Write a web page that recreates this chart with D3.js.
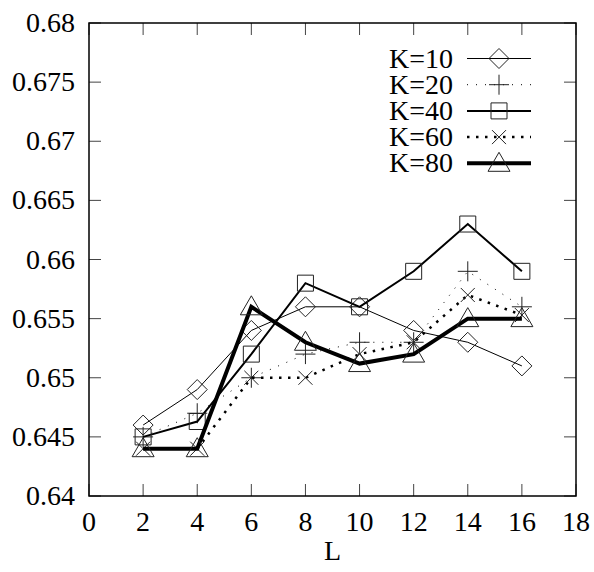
<!DOCTYPE html>
<html>
<head>
<meta charset="utf-8">
<script src="https://cdn.jsdelivr.net/npm/d3@7"></script>
</head>
<body style="margin:0">
<div id="chart"></div>
<script>
// Data
const L = [2, 4, 6, 8, 10, 12, 14, 16];
const k10 = [0.646, 0.649, 0.654, 0.656, 0.656, 0.654, 0.653, 0.651];
const k20 = [0.645, 0.647, 0.650, 0.652, 0.653, 0.653, 0.659, 0.656];
const k40 = [0.645, 0.6463, 0.652, 0.658, 0.656, 0.659, 0.663, 0.659];
const k60 = [0.644, 0.644, 0.650, 0.650, 0.652, 0.653, 0.657, 0.6553];
const k80 = [0.644, 0.644, 0.656, 0.653, 0.6512, 0.652, 0.655, 0.655];
const xTicks = [0, 2, 4, 6, 8, 10, 12, 14, 16, 18];
const yTicks = [0.64, 0.645, 0.65, 0.655, 0.66, 0.665, 0.67, 0.675, 0.68];

const series = [
  { name: "K=10", values: k10, marker: "diamond", width: 1, dash: null },
  { name: "K=20", values: k20, marker: "plus", width: 1, dash: "1,8" },
  { name: "K=40", values: k40, marker: "square", width: 2, dash: null },
  { name: "K=60", values: k60, marker: "cross", width: 2.5, dash: "2.5,6.5" },
  { name: "K=80", values: k80, marker: "triangle", width: 4, dash: null }
];

const W = 594, H = 572;
const plotLeft = 89, plotRight = 576, plotTop = 23, plotBottom = 496;
const textStyle = "font-family:'Times New Roman','Liberation Serif';font-size:28px;fill:#000";

const svg = d3.select("#chart").append("svg")
  .attr("width", W).attr("height", H);

const x = d3.scaleLinear().domain([0, 18]).range([plotLeft, plotRight]);
const y = d3.scaleLinear().domain([0.64, 0.68]).range([plotBottom, plotTop]);

// marker shapes, centred on 0,0
function markerPath(type) {
  switch (type) {
    case "diamond": return "M-10,0L0,-10L10,0L0,10Z";
    case "plus": return "M-10,0H10M0,-10V10";
    case "square": return "M-8,-8H8V8H-8Z";
    case "cross": return "M-7,-7L7,7M-7,7L7,-7";
    case "triangle": return "M0,-11L11,8H-11Z";
  }
}

// ticks (mirrored on all four sides, pointing inward)
const tickLen = 12;
const ticks = svg.append("g").attr("stroke", "#444").attr("stroke-width", 1);
yTicks.forEach(v => {
  ticks.append("line").attr("x1", plotLeft).attr("x2", plotLeft + tickLen).attr("y1", y(v)).attr("y2", y(v));
  ticks.append("line").attr("x1", plotRight).attr("x2", plotRight - tickLen).attr("y1", y(v)).attr("y2", y(v));
});
xTicks.forEach(v => {
  ticks.append("line").attr("x1", x(v)).attr("x2", x(v)).attr("y1", plotBottom).attr("y2", plotBottom - tickLen);
  ticks.append("line").attr("x1", x(v)).attr("x2", x(v)).attr("y1", plotTop).attr("y2", plotTop + tickLen);
});

// frame
svg.append("rect")
  .attr("x", plotLeft).attr("y", plotTop)
  .attr("width", plotRight - plotLeft).attr("height", plotBottom - plotTop)
  .attr("fill", "none").attr("stroke", "#000").attr("stroke-width", 1.5);

// tick labels
svg.append("g").selectAll("text").data(yTicks).join("text")
  .attr("style", textStyle)
  .attr("x", plotLeft - 14)
  .attr("y", d => y(d) + 9)
  .attr("text-anchor", "end")
  .text(d => String(+d.toFixed(3)));

svg.append("g").selectAll("text").data(xTicks).join("text")
  .attr("style", textStyle)
  .attr("x", d => x(d))
  .attr("y", plotBottom + 35)
  .attr("text-anchor", "middle")
  .text(d => d);

svg.append("text")
  .attr("style", textStyle)
  .attr("x", (plotLeft + plotRight) / 2)
  .attr("y", 560)
  .attr("text-anchor", "middle")
  .text("L");

// lines + markers
const line = d3.line().x(d => x(d[0])).y(d => y(d[1]));

series.forEach(s => {
  const pts = L.map((l, i) => [l, s.values[i]]);
  svg.append("path")
    .datum(pts)
    .attr("fill", "none")
    .attr("stroke", "#000")
    .attr("stroke-width", s.width)
    .attr("stroke-dasharray", s.dash)
    .attr("stroke-linejoin", "miter")
    .attr("d", line);
  svg.append("g").selectAll("path").data(pts).join("path")
    .attr("transform", d => `translate(${x(d[0])},${y(d[1])})`)
    .attr("d", markerPath(s.marker))
    .attr("fill", "none")
    .attr("stroke", "#222")
    .attr("stroke-width", 1);
});

// legend
const legX0 = 467, legX1 = 531, legTextX = 453, legY0 = 58.5, legStep = 26.2;
series.forEach((s, i) => {
  const ly = legY0 + i * legStep;
  svg.append("text")
    .attr("style", textStyle)
    .attr("x", legTextX)
    .attr("y", ly + 9)
    .attr("text-anchor", "end")
    .text(s.name);
  svg.append("line")
    .attr("x1", legX0).attr("x2", legX1).attr("y1", ly).attr("y2", ly)
    .attr("stroke", "#000")
    .attr("stroke-width", s.width)
    .attr("stroke-dasharray", s.dash);
  svg.append("path")
    .attr("transform", `translate(${(legX0 + legX1) / 2},${ly})`)
    .attr("d", markerPath(s.marker))
    .attr("fill", "none")
    .attr("stroke", "#222")
    .attr("stroke-width", 1);
});
</script>
</body>
</html>
